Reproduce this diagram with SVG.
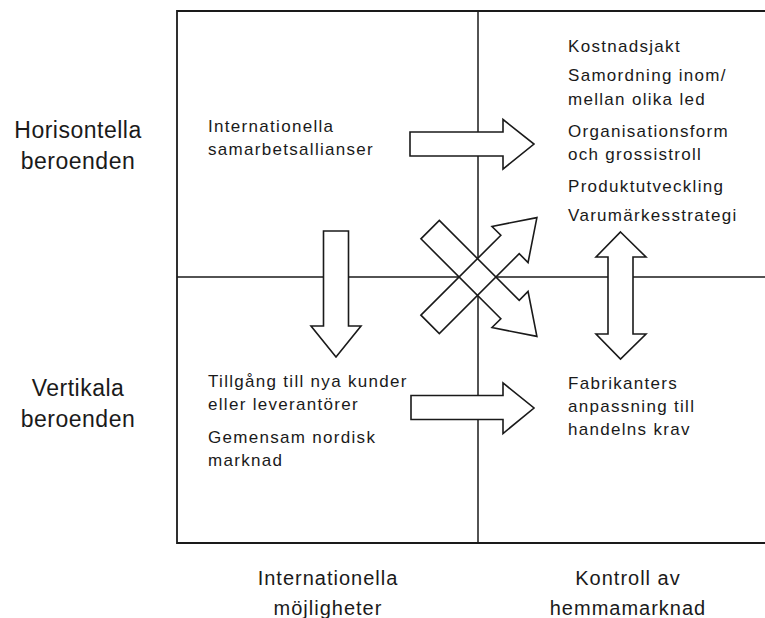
<svg xmlns="http://www.w3.org/2000/svg" width="765" height="618" viewBox="0 0 765 618">
<defs>
<style>
.frame{fill:none;stroke:#1a1a1a;stroke-width:1.8}
.div{fill:none;stroke:#1a1a1a;stroke-width:1.5}
.arr{fill:#fff;stroke:#1a1a1a;stroke-width:1.6;stroke-linejoin:miter}
.afill{fill:#fff;stroke:none}
.aline{fill:none;stroke:#1a1a1a;stroke-width:1.6}
text{font-family:"Liberation Sans",Arial,Helvetica,sans-serif;fill:#1a1a1a}
.s{font-size:17px;letter-spacing:1.3px}
.b{font-size:23px;letter-spacing:0.5px;text-anchor:middle}
.m{font-size:20px;letter-spacing:1px;text-anchor:middle}
</style>
<polygon id="xarrow" points="-67,-13 46,-13 46,-25.5 84,0 46,25.5 46,13 -67,13"/>
</defs>
<rect width="765" height="618" fill="#fff"/>
<g id="frame">
<polyline class="frame" points="770,11 177,11 177,543 770,543"/>
<line class="div" x1="478" y1="11" x2="478" y2="543"/>
<line class="div" x1="177" y1="277" x2="770" y2="277"/>
</g>
<g id="row-labels">
<text class="b" x="78" y="138">Horisontella</text>
<text class="b" x="78" y="169">beroenden</text>
<text class="b" x="78" y="396">Vertikala</text>
<text class="b" x="78" y="427">beroenden</text>
</g>
<g id="col-labels">
<text class="m" x="328" y="585">Internationella</text>
<text class="m" x="328" y="615">möjligheter</text>
<text class="m" x="628" y="585">Kontroll av</text>
<text class="m" x="628" y="615">hemmamarknad</text>
</g>
<g id="q-top-left">
<text class="s" x="208" y="132">Internationella</text>
<text class="s" x="208" y="155">samarbetsallianser</text>
</g>
<g id="q-top-right">
<text class="s" x="568" y="52">Kostnadsjakt</text>
<text class="s" x="568" y="81">Samordning inom/</text>
<text class="s" x="568" y="105">mellan olika led</text>
<text class="s" x="568" y="137">Organisationsform</text>
<text class="s" x="568" y="160">och grossistroll</text>
<text class="s" x="568" y="192">Produktutveckling</text>
<text class="s" x="568" y="221">Varumärkesstrategi</text>
</g>
<g id="q-bottom-left">
<text class="s" x="208" y="387">Tillgång till nya kunder</text>
<text class="s" x="208" y="410">eller leverantörer</text>
<text class="s" x="208" y="443">Gemensam nordisk</text>
<text class="s" x="208" y="466">marknad</text>
</g>
<g id="q-bottom-right">
<text class="s" x="568" y="389">Fabrikanters</text>
<text class="s" x="568" y="412">anpassning till</text>
<text class="s" x="568" y="435">handelns krav</text>
</g>
<g id="connectors">
<polygon class="arr" points="410,132 503,132 503,119.5 534,144 503,169 503,156 410,156"/>
<polygon class="arr" points="411,395.5 503,395.5 503,383 534,408 503,433.5 503,419.5 411,419.5"/>
<polygon class="arr" points="323.5,231 348.5,231 348.5,326 361,326 336,357 311,326 323.5,326"/>
<polygon class="arr" points="620.5,232 646,257 633,257 633,334 646,334 620.5,359 596,334 608,334 608,257 596,257"/>
<g transform="translate(477.5,277)">
<use href="#xarrow" class="afill" transform="rotate(45)"/>
<use href="#xarrow" class="afill" transform="rotate(-45)"/>
<use href="#xarrow" class="aline" transform="rotate(45)"/>
<use href="#xarrow" class="aline" transform="rotate(-45)"/>
</g>
</g>
</svg>
